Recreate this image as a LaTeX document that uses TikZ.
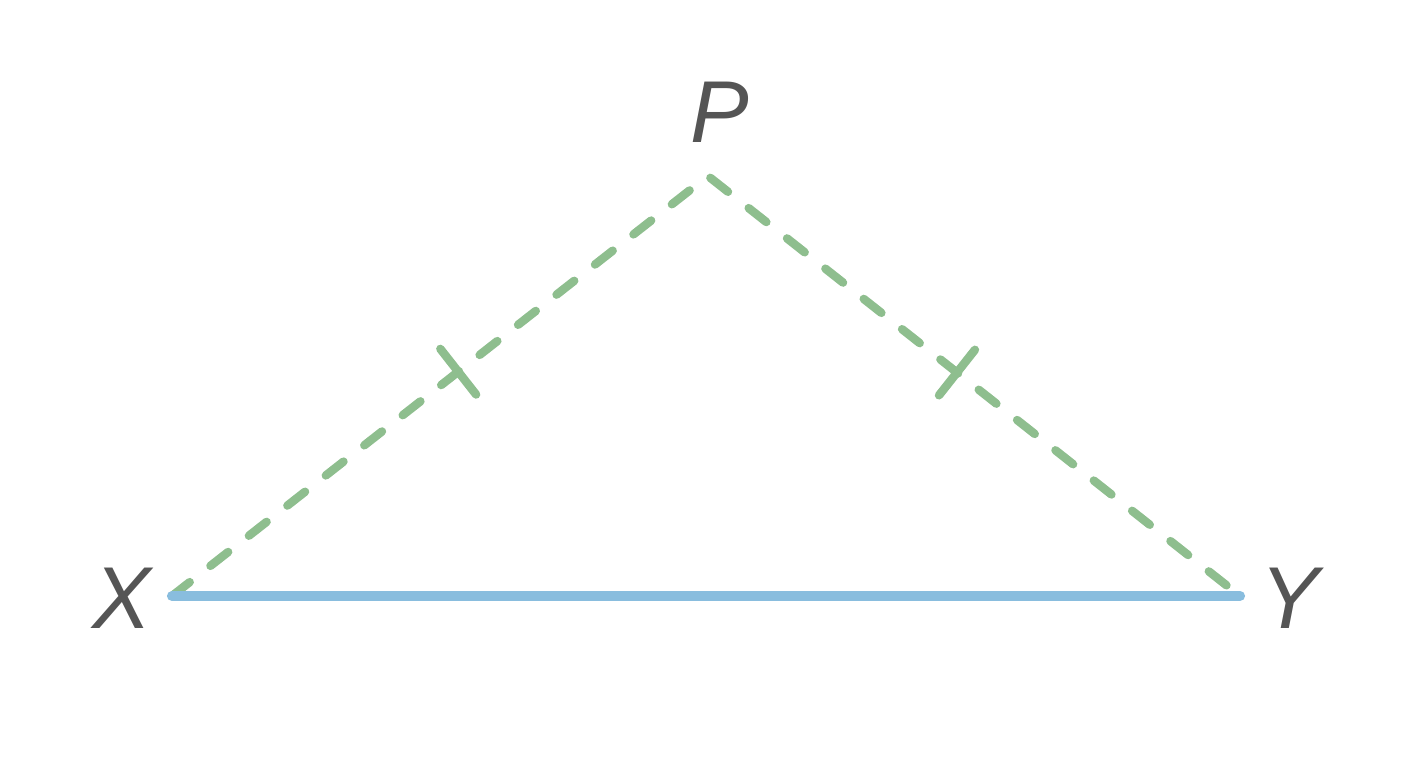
\documentclass[tikz,border=0pt]{standalone}
\usepackage{fontspec}
\setmainfont{Liberation Sans}
\usetikzlibrary{calc}
\definecolor{sidegreen}{RGB}{142,190,142}
\definecolor{baseblue}{RGB}{137,189,222}
\definecolor{labelgray}{RGB}{85,85,85}
\tikzset{
	vertex/.style={text=labelgray,font=\fontsize{25}{30}\selectfont\itshape,inner sep=0pt},
	equalside/.style={sidegreen,line width=2.4pt,line cap=round,dash pattern=on 6.4pt off 7.5pt},
	tick/.style={sidegreen,line width=2.4pt,line cap=round},
	base/.style={baseblue,line width=2.9pt,line cap=round}
}

\begin{document}
\begin{tikzpicture}
			\useasboundingbox (0,0) rectangle (14.08,7.68);
			\coordinate (X) at (1.72,1.72);
			\coordinate (Y) at (12.40,1.72);
			\coordinate (P) at (7.08,5.92);
			\node[vertex] (lX) at (1.22,1.70) {X};
			\node[vertex] (lY) at (12.90,1.70) {Y};
			\node[vertex] (lP) at (7.20,6.56) {P};
%-----The two equal sides and the base-----
			\draw[equalside] (X) -- (P) -- (Y);
			\draw[base] (X) -- (Y);
%-----Tick marks on the two equal sides-----
			\coordinate (mXP) at ($(X)!0.534!(P)$);
			\coordinate (mPY) at ($(Y)!0.532!(P)$);
			\draw[tick] ($(mXP)!0.29cm!90:(P)$) -- ($(mXP)!0.29cm!-90:(P)$);
			\draw[tick] ($(mPY)!0.29cm!90:(Y)$) -- ($(mPY)!0.29cm!-90:(Y)$);
		\end{tikzpicture}
\end{document}
